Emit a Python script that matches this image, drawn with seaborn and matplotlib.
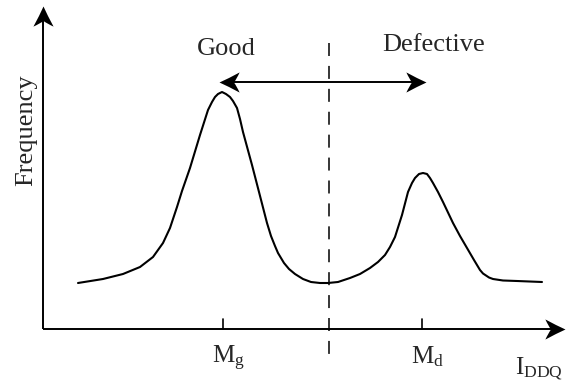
import numpy as np
import pandas as pd
import matplotlib
matplotlib.use("Agg")
import matplotlib.pyplot as plt
from matplotlib.path import Path
import seaborn as sns

# curve (x = I_DDQ position, y = frequency, arbitrary units)
curve_x = [35, 60, 80, 97, 110, 120, 127, 134, 139, 147, 157, 165, 169, 172, 175, 179,
           183, 187, 190, 194, 197, 200, 209, 216, 224, 228, 232, 235, 241, 246, 252,
           260, 268, 277, 285, 295, 307, 317, 327, 335, 342, 347, 352, 359, 365, 369,
           372, 376, 380, 384, 387, 390, 395, 400, 410, 417, 424, 431, 437, 440, 446,
           450, 460, 474, 499]
curve_y = [46, 50, 55, 62, 72, 86, 101, 122, 138, 161, 194, 219, 227, 232, 235, 237,
           235, 232, 228, 221, 210, 197, 164, 137, 106, 93, 83, 76, 66, 60, 55,
           50, 47, 46, 46, 47, 51, 55, 61, 67, 74, 82, 92, 114, 137, 146,
           151, 155, 156, 155, 151, 146, 137, 127, 106, 93, 81, 69, 59, 55.5, 51.5,
           50, 48.5, 48, 47]

mean_names = [r"$\mathrm{M_g}$", r"$\mathrm{M_d}$"]
mean_x = [180, 379]
threshold_x = 286
class_names = ["Good", "Defective"]
class_x = [183, 391]
class_y = [274, 278]

df = pd.DataFrame({"x": curve_x, "y": curve_y})

sns.set_style("white")
plt.rcParams["font.family"] = ["Liberation Serif", "DejaVu Serif"]
plt.rcParams["mathtext.fontset"] = "custom"
plt.rcParams["mathtext.rm"] = "Liberation Serif"


def head(angle):
    # barbed arrow head, tip at origin, pointing along angle (degrees)
    verts = np.array([(0, 0), (-0.45, 0.2), (-1, 0.5), (-0.85, 0.18), (-0.72, 0),
                      (-0.85, -0.18), (-1, -0.5), (-0.45, -0.2), (0, 0), (0, 0)])
    t = np.deg2rad(angle)
    rot = np.array([[np.cos(t), -np.sin(t)], [np.sin(t), np.cos(t)]])
    verts = verts @ rot.T
    codes = [Path.MOVETO, Path.CURVE3, Path.CURVE3, Path.CURVE3, Path.CURVE3,
             Path.CURVE3, Path.CURVE3, Path.CURVE3, Path.CURVE3, Path.CLOSEPOLY]
    return Path(verts, codes)


fig = plt.figure(figsize=(5.66, 3.85), dpi=100)
ax = fig.add_axes([0, 0, 1, 1])
ax.set_xlim(-43, 523)
ax.set_ylim(-56, 329)
ax.set_axis_off()

sns.lineplot(data=df, x="x", y="y", sort=False, color="black", lw=1.5, ax=ax,
             solid_joinstyle="round")

# axes with arrow heads
ax.plot([0, 512], [0, 0], color="black", lw=1.4, solid_capstyle="butt")
ax.plot([0, 0], [0, 312], color="black", lw=1.4, solid_capstyle="butt")
ax.plot([522], [0], marker=head(0), ms=29, color="black", mew=0)
ax.plot([0], [323], marker=head(90), ms=29, color="black", mew=0)

# ticks at the two means
for name, mx in zip(mean_names, mean_x):
    ax.plot([mx, mx], [0, 10], color="black", lw=1.2)
    ax.text(mx - 11, -34, name, fontsize=18, ha="left", va="baseline")

ax.text(472, -45, r"$\mathrm{I_{DDQ}}$", fontsize=18, ha="left", va="baseline")

# threshold
ax.plot([threshold_x, threshold_x], [286, -26], color="black", lw=1.1, dashes=(8.5, 6.5))

# double arrow
ax.plot([184, 375], [247, 247], color="black", lw=1.4)
ax.plot([176], [247], marker=head(180), ms=29, color="black", mew=0)
ax.plot([383], [247], marker=head(0), ms=29, color="black", mew=0)

for name, cx, cy in zip(class_names, class_x, class_y):
    ax.text(cx, cy, name, fontsize=19, ha="center", va="baseline")

ax.text(-17, 199, "Frequency", fontsize=19, rotation=90, ha="center", va="center")

fig.savefig("out.png", dpi=100)
